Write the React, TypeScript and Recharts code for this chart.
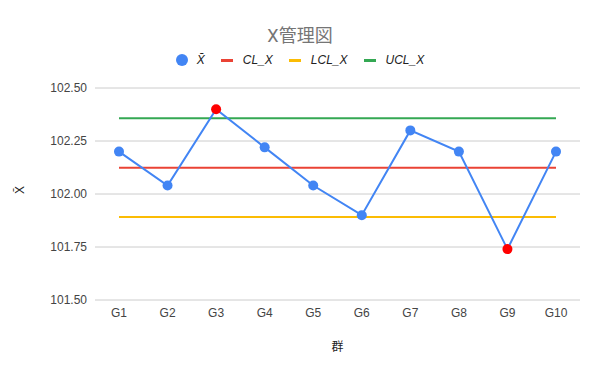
import { CartesianGrid, ComposedChart, Line, XAxis, YAxis } from 'recharts'

const groups = ['G1', 'G2', 'G3', 'G4', 'G5', 'G6', 'G7', 'G8', 'G9', 'G10']
const xbarValues = [102.2, 102.04, 102.4, 102.22, 102.04, 101.9, 102.3, 102.2, 101.74, 102.2]
const clValue = 102.124
const uclValue = 102.357
const lclValue = 101.891
const yTicks = [101.5, 101.75, 102.0, 102.25, 102.5]

const BLUE = '#4285F4'
const RED = '#EA4335'
const YELLOW = '#FBBC04'
const GREEN = '#34A853'
const FONT = "Arial, 'Liberation Sans', 'Noto Sans CJK JP', sans-serif"

const data = groups.map((g, i) => ({
  g,
  xbar: xbarValues[i],
  cl: clValue,
  ucl: uclValue,
  lcl: lclValue,
}))

function XbarDot(props: any) {
  const { cx, cy, payload } = props
  if (cx == null || cy == null) return null
  const out = payload.xbar > uclValue || payload.xbar < lclValue
  return <circle cx={cx} cy={cy} r={5} fill={out ? '#FF0000' : BLUE} stroke="none" />
}

const legendItems = [
  { label: 'X̄', color: BLUE, kind: 'dot' },
  { label: 'CL_X', color: RED, kind: 'line' },
  { label: 'LCL_X', color: YELLOW, kind: 'line' },
  { label: 'UCL_X', color: GREEN, kind: 'line' },
]

export default function App() {
  return (
    <div style={{ position: 'absolute', left: 0, top: 0, width: 600, height: 371, background: '#fff', fontFamily: FONT }}>
      <div style={{ position: 'absolute', top: 21, width: 600, textAlign: 'center', fontSize: 18, color: '#757575', fontFamily: "Roboto, 'Noto Sans CJK JP', sans-serif" }}>
        X管理図
      </div>
      <div style={{ position: 'absolute', top: 53, left: 8, width: 600, display: 'flex', justifyContent: 'center', alignItems: 'center', fontSize: 12, fontStyle: 'italic', color: '#222' }}>
        {legendItems.map((it) => (
          <div key={it.label} style={{ display: 'flex', alignItems: 'center', marginRight: 16 }}>
            {it.kind === 'dot' ? (
              <span style={{ width: 12, height: 12, borderRadius: 6, background: it.color, display: 'inline-block', marginRight: 9 }} />
            ) : (
              <span style={{ width: 12, height: 3, background: it.color, display: 'inline-block', marginRight: 10 }} />
            )}
            <span>{it.label}</span>
          </div>
        ))}
      </div>
      <ComposedChart width={600} height={371} data={data} margin={{ top: 88, right: 20, left: 0, bottom: 11 }}>
        <CartesianGrid vertical={false} stroke="#cccccc" />
        <XAxis
          dataKey="g"
          axisLine={false}
          tickLine={false}
          height={60}
          padding={{ left: 24, right: 24 }}
          tick={{ fontSize: 12, fill: '#444', fontFamily: FONT }}
          label={{ value: '群', position: 'insideBottom', offset: 9, fontSize: 12, fill: '#222' }}
        />
        <YAxis
          width={95}
          domain={[101.5, 102.5]}
          ticks={yTicks}
          axisLine={false}
          tickLine={false}
          tickFormatter={(v: number) => v.toFixed(2)}
          tick={{ fontSize: 12, fill: '#444', fontFamily: FONT }}
          label={{ value: 'X̄', angle: -90, position: 'insideLeft', offset: 20, fontSize: 12, fill: '#222' }}
        />
        <Line dataKey="ucl" stroke={GREEN} strokeWidth={2} dot={false} isAnimationActive={false} />
        <Line dataKey="cl" stroke={RED} strokeWidth={2} dot={false} isAnimationActive={false} />
        <Line dataKey="lcl" stroke={YELLOW} strokeWidth={2} dot={false} isAnimationActive={false} />
        <Line dataKey="xbar" stroke={BLUE} strokeWidth={2} dot={<XbarDot />} activeDot={false} isAnimationActive={false} />
      </ComposedChart>
    </div>
  )
}
